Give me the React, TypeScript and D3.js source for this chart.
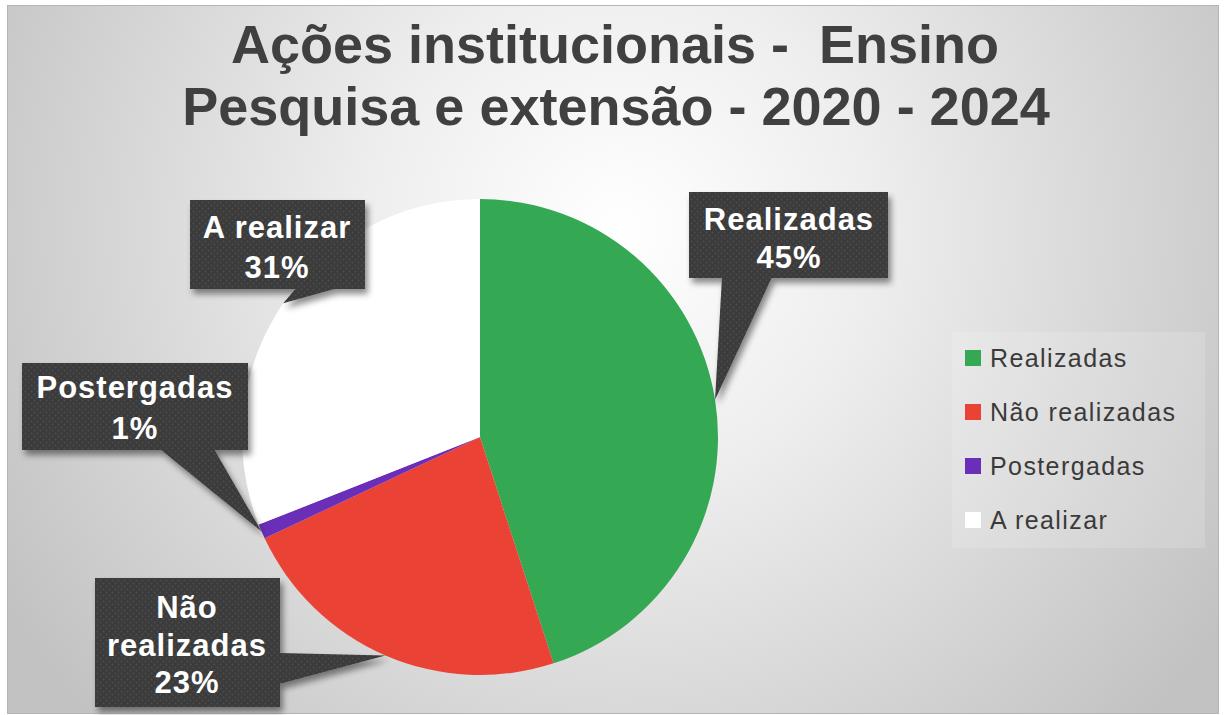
import React from "react";
import * as d3 from "d3";

const categories = ["Realizadas", "Não realizadas", "Postergadas", "A realizar"];
const values = [45, 23, 1, 31];
const colors = ["#34a853", "#ea4335", "#6a2eb8", "#ffffff"];
const calloutLines = [
  ["Realizadas", "45%"],
  ["Não", "realizadas", "23%"],
  ["Postergadas", "1%"],
  ["A realizar", "31%"],
];
const titleLines = ["Ações institucionais -  Ensino", "Pesquisa e extensão - 2020 - 2024"];

const W = 1225;
const H = 715;
const CX = 480;
const CY = 437;
const R = 238;

// layout of callout boxes (box x,y,w,h ; tail base points ; text baselines)
const boxLayout = [
  { x: 689, y: 192, w: 199, h: 86, base: [[722, 277], [772, 277]], cx: 789, lines: [230, 268] },
  { x: 95, y: 578, w: 185, h: 129, base: [[279, 653], [279, 684]], cx: 187, lines: [618, 656, 693] },
  { x: 22, y: 363, w: 226, h: 87, base: [[160, 449], [214, 449]], cx: 135, lines: [398, 439] },
  { x: 190, y: 200, w: 175, h: 89, base: [[296, 288], [338, 288]], cx: 277, lines: [238, 278] },
];

export default function App() {
  const pie = d3.pie<number>().sort(null).startAngle(0).endAngle(2 * Math.PI);
  const arcs = pie(values);
  const arc = d3.arc<d3.PieArcDatum<number>>().innerRadius(0).outerRadius(R);

  return (
    <svg
      width={W}
      height={H}
      style={{ position: "absolute", left: 0, top: 0, display: "block" }}
      fontFamily="'Liberation Sans', Arial, sans-serif"
    >
      <defs>
        <radialGradient id="bg" gradientUnits="userSpaceOnUse" cx={620} cy={230} r={720}>
          <stop offset="0" stopColor="#ffffff" />
          <stop offset="0.35" stopColor="#eeeeee" />
          <stop offset="1" stopColor="#c2c2c2" />
        </radialGradient>
        <pattern id="dots" width={6} height={6} patternUnits="userSpaceOnUse">
          <rect width={6} height={6} fill="#3a3a3a" />
          <circle cx={1.5} cy={1.5} r={1.1} fill="#4b4b4b" />
          <circle cx={4.5} cy={4.5} r={1.1} fill="#4b4b4b" />
        </pattern>
        <filter id="shadow" x="-20%" y="-20%" width="140%" height="150%">
          <feDropShadow dx={3} dy={5} stdDeviation={3} floodColor="#000" floodOpacity={0.45} />
        </filter>
      </defs>
      <rect x={0} y={0} width={W} height={H} fill="#ffffff" />
      <rect x={7.5} y={5.5} width={1211} height={708} fill="url(#bg)" stroke="#b4b4b4" strokeWidth={1} />

      {/* title */}
      <g fill="#404040" fontWeight="bold" fontSize={54} textAnchor="middle">
        <text x={615} y={63} xmlSpace="preserve">{titleLines[0]}</text>
        <text x={616} y={125} xmlSpace="preserve">{titleLines[1]}</text>
      </g>

      {/* pie */}
      <g transform={`translate(${CX},${CY})`}>
        {arcs.map((a, i) => (
          <path key={i} d={arc(a) || ""} fill={colors[i]} />
        ))}
      </g>

      {/* callouts */}
      {arcs.map((a, i) => {
        const L = boxLayout[i];
        const mid = (a.startAngle + a.endAngle) / 2;
        const tx = CX + R * Math.sin(mid);
        const ty = CY - R * Math.cos(mid);
        const poly = [[L.base[0][0], L.base[0][1]], [tx, ty], [L.base[1][0], L.base[1][1]]]
          .map((p) => p.join(","))
          .join(" ");
        return (
          <g key={i}>
            <g filter="url(#shadow)">
              <rect x={L.x} y={L.y} width={L.w} height={L.h} fill="url(#dots)" />
              <polygon points={poly} fill="url(#dots)" />
            </g>
            {calloutLines[i].map((t, j) => (
              <text
                key={j}
                x={L.cx}
                y={L.lines[j]}
                textAnchor="middle"
                fill="#ffffff"
                fontWeight="bold"
                fontSize={31}
                letterSpacing={1}
              >
                {t}
              </text>
            ))}
          </g>
        );
      })}

      {/* legend */}
      <rect x={952} y={332} width={253} height={216} fill="#ffffff" fillOpacity={0.15} />
      {categories.map((c, i) => (
        <g key={c} transform={`translate(965,${350 + i * 54})`}>
          <rect x={0} y={0} width={16} height={16} fill={colors[i]} />
          <text x={25} y={17} fontSize={25} fill="#3a3a3a" letterSpacing={1.4}>
            {c}
          </text>
        </g>
      ))}
    </svg>
  );
}
